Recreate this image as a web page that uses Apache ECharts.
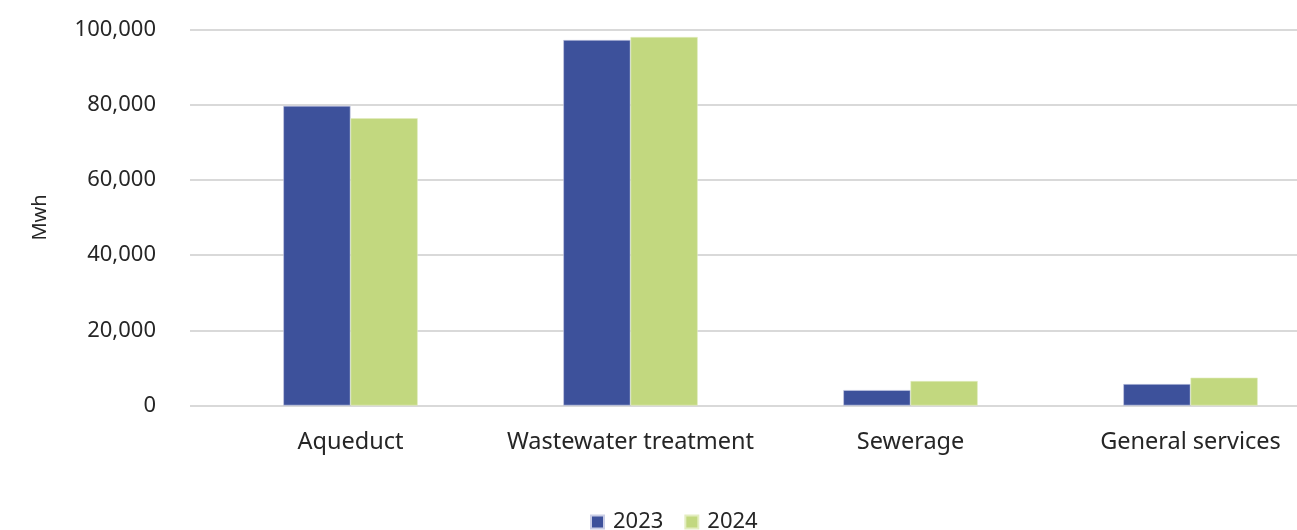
<!DOCTYPE html>
<html>
<head>
<meta charset="utf-8">
<script src="https://cdn.jsdelivr.net/npm/echarts@6/dist/echarts.min.js"></script>
<style>
  html, body { margin: 0; padding: 0; background: #fff; }
  #chart { width: 1297px; height: 530px; }
</style>
</head>
<body>
<div id="chart"></div>
<script>
// Energy consumption by service area (MWh)
const categories = ['Aqueduct', 'Wastewater treatment', 'Sewerage', 'General services'];
const seriesNames = ['2023', '2024'];
const values2023 = [79700, 97200, 4100, 5700];
const values2024 = [76400, 98000, 6500, 7400];
const yTicks = { min: 0, max: 100000, interval: 20000 };

const FONT = '"Noto Sans", "DejaVu Sans", sans-serif';
const TEXT = '#262626';
const GRID_TOP = 29.5;
const GRID_BOTTOM = 124.5;

const chart = echarts.init(document.getElementById('chart'), null, { renderer: 'canvas' });

chart.setOption({
  animation: false,
  textStyle: { fontFamily: FONT },
  legend: {
    bottom: -8,
    left: 585,
    itemWidth: 13,
    itemHeight: 13,
    itemGap: 21,
    icon: 'rect',
    textStyle: { fontFamily: FONT, fontSize: 22, color: TEXT, padding: [0, 0, 0, 4] },
    data: seriesNames
  },
  grid: [
    // value scale + gridlines
    { left: 190, right: 0, top: GRID_TOP, bottom: GRID_BOTTOM, outerBoundsMode: 'none' },
    // category band for the bars
    { left: 210.5, right: -33.5, top: GRID_TOP, bottom: GRID_BOTTOM, outerBoundsMode: 'none' }
  ],
  xAxis: [
    { type: 'value', gridIndex: 0, show: false, min: 0, max: 1 },
    {
      type: 'category',
      gridIndex: 1,
      data: categories,
      axisLine: { show: false },
      axisTick: { show: false },
      axisLabel: { fontFamily: FONT, fontSize: 23.5, color: TEXT, margin: 25, interval: 0 }
    }
  ],
  yAxis: [
    {
      type: 'value',
      gridIndex: 0,
      min: yTicks.min,
      max: yTicks.max,
      interval: yTicks.interval,
      name: 'Mwh',
      nameLocation: 'middle',
      nameGap: 140,
      nameRotate: 90,
      nameTextStyle: { fontFamily: FONT, fontSize: 20, color: TEXT },
      axisLine: { show: false },
      axisTick: { show: false },
      axisLabel: {
        fontFamily: FONT, fontSize: 22, color: TEXT, margin: 34,
        formatter: v => v.toLocaleString('en-US')
      },
      splitLine: { lineStyle: { color: '#d9d9d9', width: 2 } }
    },
    {
      type: 'value',
      gridIndex: 1,
      min: yTicks.min,
      max: yTicks.max,
      interval: yTicks.interval,
      show: false,
      splitLine: { show: false }
    }
  ],
  series: [
    {
      name: seriesNames[0],
      type: 'bar',
      xAxisIndex: 1,
      yAxisIndex: 1,
      data: values2023,
      barGap: '0%',
      barCategoryGap: '52%',
      itemStyle: { color: '#3d519b', borderColor: '#c9cde6', borderWidth: 0.6 }
    },
    {
      name: seriesNames[1],
      type: 'bar',
      xAxisIndex: 1,
      yAxisIndex: 1,
      data: values2024,
      barGap: '0%',
      barCategoryGap: '52%',
      itemStyle: { color: '#c2d87f', borderColor: '#e3edc0', borderWidth: 0.6 }
    }
  ]
});
</script>
</body>
</html>
